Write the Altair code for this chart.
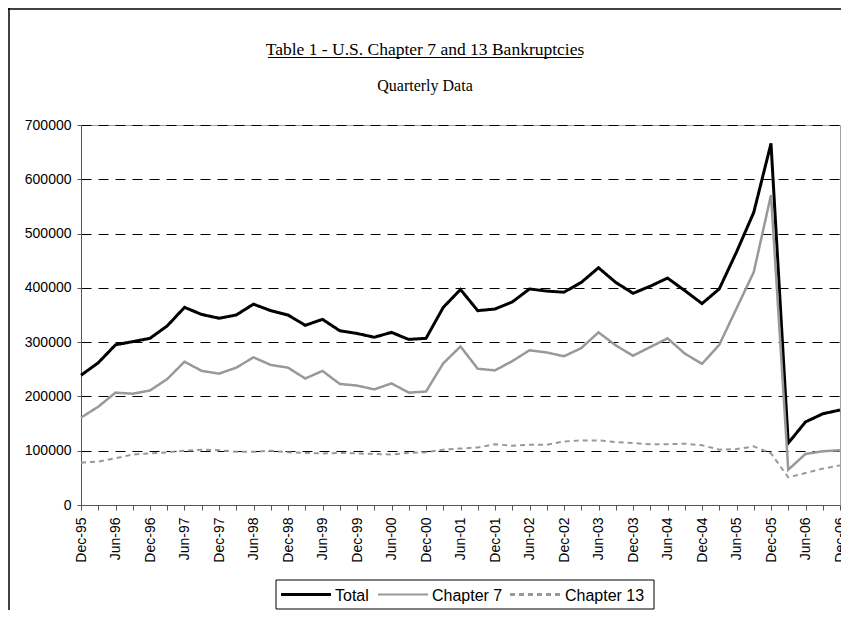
import json
import altair as alt
import pandas as pd

quarters = ["Dec-95", "Mar-96", "Jun-96", "Sep-96", "Dec-96", "Mar-97", "Jun-97", "Sep-97",
            "Dec-97", "Mar-98", "Jun-98", "Sep-98", "Dec-98", "Mar-99", "Jun-99", "Sep-99",
            "Dec-99", "Mar-00", "Jun-00", "Sep-00", "Dec-00", "Mar-01", "Jun-01", "Sep-01",
            "Dec-01", "Mar-02", "Jun-02", "Sep-02", "Dec-02", "Mar-03", "Jun-03", "Sep-03",
            "Dec-03", "Mar-04", "Jun-04", "Sep-04", "Dec-04", "Mar-05", "Jun-05", "Sep-05",
            "Dec-05", "Mar-06", "Jun-06", "Sep-06", "Dec-06"]

total = [239000, 262000, 295000, 301000, 307000, 330000, 364000, 351000, 344000, 350000,
         370000, 358000, 350000, 331000, 342000, 321000, 316000, 309000, 318000, 305000,
         307000, 364000, 397000, 358000, 361000, 374000, 398000, 394000, 392000, 410000,
         437000, 410000, 390000, 403000, 418000, 395000, 371000, 398000, 466000, 539000,
         666000, 114000, 153000, 168000, 175000]

chapter7 = [161000, 181000, 207000, 205000, 211000, 232000, 264000, 247000, 242000, 253000,
            272000, 258000, 253000, 233000, 247000, 223000, 220000, 213000, 224000, 207000,
            209000, 261000, 292000, 251000, 248000, 265000, 285000, 281000, 274000, 289000,
            318000, 294000, 275000, 291000, 307000, 279000, 260000, 295000, 362000, 429000,
            571000, 65000, 94000, 99000, 101000]

chapter13 = [78000, 80000, 86000, 93000, 95000, 97000, 100000, 102000, 101000, 98000,
             98000, 100000, 97000, 96000, 95000, 96000, 95000, 94000, 93000, 96000,
             97000, 102000, 104000, 106000, 112000, 109000, 111000, 111000, 117000, 119000,
             119000, 116000, 114000, 112000, 112000, 113000, 110000, 102000, 103000, 108000,
             95000, 51000, 59000, 67000, 73000]

series_names = ["Total", "Chapter 7", "Chapter 13"]
series_colors = ["#000000", "#999999", "#999999"]
series_widths = [3, 2, 3]
series_dashes = [[1, 0], [1, 0], [5, 4]]
y_ticks = [0, 100000, 200000, 300000, 400000, 500000, 600000, 700000]

title_text = "Table 1 - U.S. Chapter 7 and 13 Bankruptcies"
subtitle_text = "Quarterly Data"

rows = []
for name, vals in zip(series_names, [total, chapter7, chapter13]):
    for i, v in enumerate(vals):
        rows.append({"idx": i, "quarter": quarters[i], "series": name, "value": v})
df = pd.DataFrame(rows)

W, H = 759, 380
PAD_L, PAD_T = 73, 117

label_expr = "datum.value % 2 == 0 ? " + json.dumps(quarters) + "[datum.value] : ''"

x_enc = alt.X("idx:Q",
              scale=alt.Scale(domain=[0, len(quarters) - 1], nice=False, zero=False),
              axis=alt.Axis(values=list(range(len(quarters))), labelExpr=label_expr,
                            labelAngle=-90, labelAlign="right", labelBaseline="middle",
                            labelFont="Liberation Sans", labelFontSize=14, labelColor="black",
                            labelOverlap=False, labelFlush=False, labelPadding=7,
                            tickSize=5, tickColor="#555555", domainColor="#555555",
                            grid=False, title=None))
y_enc = alt.Y("value:Q",
              scale=alt.Scale(domain=[0, 700000], nice=False),
              axis=alt.Axis(values=y_ticks, format="d",
                            labelFont="Liberation Sans", labelFontSize=14, labelColor="black",
                            labelPadding=6, tickSize=4, tickColor="#555555",
                            domainColor="#555555", grid=True, gridDash=[10, 7],
                            gridColor="#000000", gridWidth=1, title=None))

lines = alt.Chart(df).mark_line(strokeCap="butt", strokeJoin="miter").encode(
    x=x_enc,
    y=y_enc,
    color=alt.Color("series:N", sort=series_names,
                    scale=alt.Scale(domain=series_names, range=series_colors), legend=None),
    strokeWidth=alt.StrokeWidth("series:N", sort=series_names,
                                scale=alt.Scale(domain=series_names, range=series_widths),
                                legend=None),
    strokeDash=alt.StrokeDash("series:N", sort=series_names,
                              scale=alt.Scale(domain=series_names, range=series_dashes),
                              legend=None),
    order=alt.Order("idx:Q"),
)

one = pd.DataFrame({"t": [title_text]})
sub_df = pd.DataFrame({"t": [subtitle_text]})

title = alt.Chart(one).mark_text(font="Liberation Serif", fontSize=17.5, color="black",
                                 align="center", baseline="alphabetic").encode(
    x=alt.value(344), y=alt.value(-70), text="t:N")
underline = alt.Chart(one).mark_rule(color="black", strokeWidth=1).encode(
    x=alt.value(187), x2=alt.value(501), y=alt.value(-67.5))
subtitle = alt.Chart(sub_df).mark_text(font="Liberation Serif", fontSize=16, color="black",
                                       align="center", baseline="alphabetic").encode(
    x=alt.value(344), y=alt.value(-34), text="t:N")

frame_left = alt.Chart(one).mark_rule(color="black", strokeWidth=1.5).encode(
    x=alt.value(-PAD_L + 1), y=alt.value(-PAD_T), y2=alt.value(H + 110))
frame_top = alt.Chart(one).mark_rule(color="black", strokeWidth=1.5).encode(
    x=alt.value(-PAD_L), x2=alt.value(W + 5), y=alt.value(-PAD_T + 1))

# manual legend (box, line samples, labels)
LY = 469.5
legend_box = alt.Chart(one).mark_rect(fill="white", stroke="black", strokeWidth=1).encode(
    x=alt.value(195), x2=alt.value(573), y=alt.value(455), y2=alt.value(484))
legend_layers = [legend_box]
sample_x = [200, 297, 429]
label_x = [254, 351, 484]
for k, name in enumerate(series_names):
    legend_layers.append(
        alt.Chart(one).mark_rule(color=series_colors[k], strokeWidth=series_widths[k],
                                 strokeDash=series_dashes[k], strokeCap="butt").encode(
            x=alt.value(sample_x[k]), x2=alt.value(sample_x[k] + 50), y=alt.value(LY)))
    legend_layers.append(
        alt.Chart(pd.DataFrame({"t": [name]})).mark_text(
            font="Liberation Sans", fontSize=16, color="black", align="left",
            baseline="middle").encode(x=alt.value(label_x[k]), y=alt.value(LY + 1), text="t:N"))

chart = alt.layer(lines, title, underline, subtitle, frame_left, frame_top,
                  *legend_layers).properties(
    width=W, height=H,
    autosize=alt.AutoSizeParams(type="none"),
    padding={"left": PAD_L, "top": PAD_T, "right": 1, "bottom": 105},
).configure_view(
    stroke="#a0a0a0", strokeWidth=1
)

chart.save("out.html", embed_options={"renderer": "svg", "actions": False})
